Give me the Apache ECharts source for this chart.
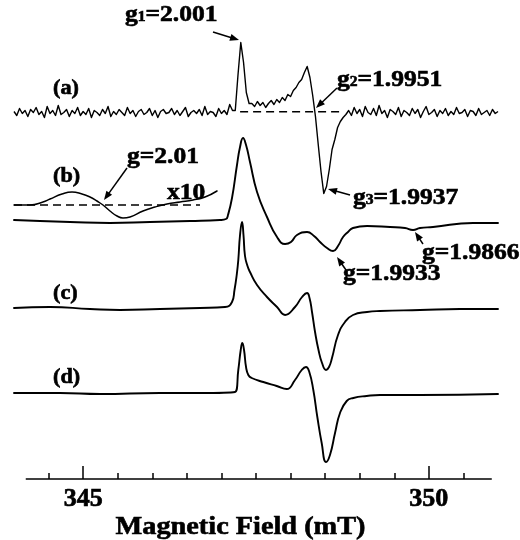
<!DOCTYPE html>
<html><head><meta charset="utf-8">
<script src="https://cdn.jsdelivr.net/npm/echarts@6/dist/echarts.min.js"></script>
<style>html,body{margin:0;padding:0;background:#fff}#c{width:520px;height:540px}</style>
</head><body><div id="c"></div>
<script>
// ---------------- data (magnetic field in mT, intensity in arbitrary units) ----------------
// trace (a): uniformly sampled spectrum, start field and sampling step
const traceAStart = 344.0;
const traceAStep = 0.04;
const traceAValue = [
 1,-3,4,-1,2,-4,3,0,5,-2,
 1,-5,6,-1,2,-3,7,-2,0,3,
 -4,2,-1,5,-3,1,-2,4,-5,2,
 0,-3,3,-1,6,-4,1,-2,3,0,
 -3,5,-1,2,-4,1,3,-2,0,4,
 -3,2,-5,1,3,-1,0,4,-2,2,
 -3,1,5,-4,0,2,-1,3,-3,6,
 -2,1,0,-4,4,-1,2,-2,8,2,
 2,38,70,50,20,9,9,6,11,7,
 10,5,9,12,8,13,10,15,12,18,
 16,22,25,30,33,40,46,35,17,-4,
 -32,-59,-81,-74,-57,-37,-27,-15,-9,-5,
 -2,
 2,-3,5,-1,3,-4,6,0,-2,4,
 -3,7,-1,2,-5,3,1,-2,5,-4,
 2,0,-3,4,-1,3,-5,1,6,-2,
 0,3,-4,2,-1,4,-3,1,-2,5,
 -1,0,3,-4,2,1,-3,4,-2,0,
 2,-3,3,-1,1
];
const traceAOffset = 366.5;
const traceADashField = [347.27, 348.76];
const traceADashValue = [0.8, 0.8];

// trace (b)
const traceBField = [344.000,344.376,344.810,345.388,345.967,346.546,346.979,347.066,347.095,347.153,
  347.225,347.269,347.312,347.356,347.413,347.515,347.659,347.804,347.920,348.006,
  348.093,348.238,348.339,348.426,348.527,348.614,348.686,348.759,348.831,348.903,
  349.106,349.438,349.655,349.771,349.872,350.060,350.639,351.000];
const traceBValue = [1,0,-1,-2,-1,0,1,2,6,23,
  56,74,83,76,59,29,4,-16,-23,-21,
  -14,-11,-15,-21,-27,-30,-25,-16,-11,-7,
  -5,-6,-7,-9,-7,-6,-2,-2];
const traceBOffset = 258;

// trace (b) x10 inset
const insetField = [344.000,344.231,344.419,344.521,344.694,344.839,344.983,345.099,345.200,345.287,
  345.388,345.490,345.576,345.678,345.866,346.039,346.213,346.401,346.589,346.763,346.936];
const insetValue = [0,0,3,6,11,13,11,8,4,0,
  -6,-11,-13,-12,-6,-2,1,3,5,8,14];
const insetOffset = 274;
const insetDashField = [344.0, 346.69];
const insetDashValue = [0, 0];

// trace (c)
const traceCField = [344.000,344.521,345.099,345.533,346.112,346.690,347.052,347.153,347.189,347.221,
  347.244,347.269,347.298,347.319,347.341,347.377,347.413,347.515,347.659,347.804,
  347.920,348.064,348.166,348.238,348.274,348.310,348.354,348.404,348.455,348.513,
  348.556,348.599,348.686,348.787,348.903,349.106,349.294,349.872,350.451,351.000];
const traceCValue = [0,1,-1,-2,-1,0,1,6,18,33,
  48,73,86,73,52,42,36,23,11,1,
  -7,1,11,15,10,-4,-24,-42,-55,-62,
  -59,-50,-27,-14,-7,-4,-3,-2,-1,-1];
const traceCOffset = 171;

// trace (d)
const traceDField = [344.000,344.665,345.244,346.112,346.690,347.196,347.244,347.279,347.302,347.327,
  347.356,347.389,347.438,347.606,347.800,347.944,348.064,348.161,348.223,348.271,
  348.329,348.387,348.450,348.513,348.570,348.643,348.715,348.812,348.908,349.101,
  349.294,349.872,351.000];
const traceDValue = [0,0,-1,0,0,1,23,43,50,43,
  26,18,15,11,7,4,13,23,26,21,
  3,-24,-50,-69,-62,-40,-20,-8,-5,-3,
  -2,-2,-1];
const traceDOffset = 86;

// axis
const fieldMin = 344, fieldMax = 351;
const majorTicks = [345, 350];
const tickLabels = ['345', '350'];
const minorTicks = [344.5, 345.5, 346, 346.5, 347, 347.5, 348, 348.5, 349, 349.5, 350.5];
const axisLineRange = [344.17, 350.91];
const axisTitle = 'Magnetic Field (mT)';

// ---------------- chart ----------------
const FONT = 'Liberation Serif';
const chart = echarts.init(document.getElementById('c'), null, {renderer: 'canvas'});
function pairs(fields, values, offset) { return fields.map((f, i) => [f, offset + values[i]]); }
const aData = traceAValue.map((v, i) => [+(traceAStart + i * traceAStep).toFixed(3), traceAOffset + v]);

const smoothLine = (name, data, w) => ({
  name, type: 'line', data, showSymbol: false, smooth: 0.5,
  lineStyle: {color: '#000', width: w || 1.9, join: 'round', cap: 'round'}, silent: true
});
const dashLine = (name, data) => ({
  name, type: 'line', data, showSymbol: false,
  lineStyle: {color: '#000', width: 1.5, type: [8, 5]}, silent: true
});

chart.setOption({
  animation: false,
  backgroundColor: '#fff',
  grid: {left: 14, right: 22, top: 0, bottom: 61, containLabel: false},
  xAxis: [
    {type: 'value', min: fieldMin, max: fieldMax, position: 'bottom',
     axisLine: {show: false}, splitLine: {show: false},
     axisTick: {show: true, inside: true, length: 6, customValues: minorTicks, lineStyle: {color: '#000', width: 1.5}},
     axisLabel: {show: false}},
    {type: 'value', min: fieldMin, max: fieldMax, position: 'bottom',
     axisLine: {show: false}, splitLine: {show: false},
     axisTick: {show: true, inside: true, length: 13, customValues: majorTicks, lineStyle: {color: '#000', width: 1.5}},
     axisLabel: {show: true, customValues: majorTicks, margin: 7,
       formatter: v => tickLabels[majorTicks.indexOf(v)] || '',
       fontFamily: FONT, fontWeight: 'bold', fontSize: 26, color: '#000',
       textBorderColor: '#000', textBorderWidth: 0.7}}
  ],
  yAxis: {type: 'value', min: 0, max: 479, show: false},
  series: [
    {name: '(a)', type: 'line', data: aData, showSymbol: false, lineStyle: {color: '#000', width: 1.4, join: 'round'}, silent: true},
    dashLine('(a) baseline', pairs(traceADashField, traceADashValue, traceAOffset)),
    smoothLine('(b)', pairs(traceBField, traceBValue, traceBOffset)),
    smoothLine('(b) x10', pairs(insetField, insetValue, insetOffset), 1.5),
    dashLine('(b) x10 baseline', pairs(insetDashField, insetDashValue, insetOffset)),
    smoothLine('(c)', pairs(traceCField, traceCValue, traceCOffset)),
    smoothLine('(d)', pairs(traceDField, traceDValue, traceDOffset))
  ]
});

// ---------------- annotations ----------------
const SX = 1.11;
const HEAVY = {stroke: '#000', lineWidth: 0.6};
function txt(x, y, text, size, align) {
  return {type: 'text', x, y, scaleX: SX, silent: true,
    style: Object.assign({text, fontFamily: FONT, fontWeight: 'bold', fontSize: size, fill: '#000',
      align: align || 'left', verticalAlign: 'middle'}, HEAVY)};
}
function subTxt(x, y, base, sub, rest) {
  const common = Object.assign({fontFamily: FONT, fontWeight: 'bold', fill: '#000'}, HEAVY);
  return {type: 'text', x, y, scaleX: SX, silent: true,
    style: Object.assign({text: '{m|' + base + '}{s|' + sub + '}{m|' + rest + '}',
      align: 'left', verticalAlign: 'middle',
      rich: {m: Object.assign({fontSize: 23}, common), s: Object.assign({fontSize: 14, padding: [5, 0, 0, 0]}, common)}}, HEAVY)};
}
function arrow(tail, tip) {
  const dx = tip[0] - tail[0], dy = tip[1] - tail[1];
  const L = Math.hypot(dx, dy), ux = dx / L, uy = dy / L;
  const hl = 9, hw = 3.5;
  const bx = tip[0] - ux * hl, by = tip[1] - uy * hl;
  return [
    {type: 'line', silent: true, shape: {x1: tail[0], y1: tail[1], x2: bx + ux * 2, y2: by + uy * 2},
     style: {stroke: '#000', lineWidth: 1.5}},
    {type: 'polygon', silent: true,
     shape: {points: [[tip[0], tip[1]], [bx - uy * hw, by + ux * hw], [bx + uy * hw, by - ux * hw]]},
     style: {fill: '#000'}}
  ];
}
const p0 = chart.convertToPixel({gridIndex: 0}, [axisLineRange[0], 0]);
const p1 = chart.convertToPixel({gridIndex: 0}, [axisLineRange[1], 0]);

const graphics = [
  {type: 'line', silent: true, shape: {x1: p0[0], y1: p0[1], x2: p1[0], y2: p1[1]}, style: {stroke: '#000', lineWidth: 1.6}},
  subTxt(125, 15, 'g', '1', '=2.001'),
  subTxt(337, 80, 'g', '2', '=1.9951'),
  subTxt(353, 198, 'g', '3', '=1.9937'),
  txt(53, 89, '(a)', 20),
  txt(53, 177, '(b)', 20),
  txt(53, 294, '(c)', 20),
  txt(53, 378, '(d)', 20),
  txt(127, 157, 'g=2.01', 23),
  txt(167, 193, 'x10', 23),
  txt(422, 253, 'g=1.9866', 23),
  txt(343, 274, 'g=1.9933', 23),
  txt(240.5, 527, axisTitle, 25.5, 'center')
].concat(
  arrow([213, 32], [239, 40]),
  arrow([337, 88], [316, 108]),
  arrow([350, 195], [328, 189]),
  arrow([127, 168], [104, 200]),
  arrow([423, 244], [415, 232]),
  arrow([346, 270], [337, 257])
);
chart.setOption({graphic: graphics});
</script>
</body></html>
